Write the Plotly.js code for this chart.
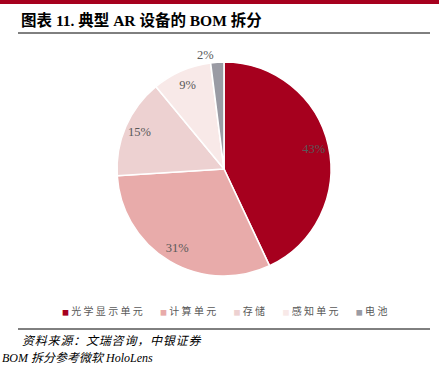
<!DOCTYPE html>
<html><head><meta charset="utf-8">
<script src="https://cdn.plot.ly/plotly-3.0.1.min.js"></script>
<style>html,body{margin:0;padding:0;background:#fff;}#c{width:439px;height:369px;}</style>
</head><body><div id="c"></div>
<script>
const categories = ["光学显示单元", "计算单元", "存储", "感知单元", "电池"];
const shares = [43, 31, 15, 9, 2];
const sliceColors = ["#A6001E", "#E8ABAA", "#EDD1D1", "#F8E9E8", "#9A9BA4"];
const labelPos = ["inside", "inside", "inside", "inside", "outside"];

const serif = '"Liberation Serif", "Noto Sans CJK SC", serif';
const W = 439, H = 369;
const cx = 224, cy = 169, r = 107;
const dom = {x: [(cx - r) / W, (cx + r) / W], y: [(H - cy - r) / H, (H - cy + r) / H]};

// visible pie
const pie = {
  type: 'pie',
  labels: categories,
  values: shares,
  sort: false,
  direction: 'clockwise',
  rotation: 0,
  marker: {colors: sliceColors, line: {color: '#ffffff', width: 1.6}},
  textinfo: 'none',
  hoverinfo: 'none',
  showlegend: false,
  domain: dom
};
// transparent ring carrying the percentage labels near the rim
const labelRing = {
  type: 'pie',
  labels: categories,
  values: shares,
  sort: false,
  direction: 'clockwise',
  rotation: 0,
  hole: 0.72,
  marker: {colors: sliceColors.map(() => 'rgba(0,0,0,0)'), line: {width: 0}},
  texttemplate: '%{value}%',
  textinfo: 'text',
  textposition: labelPos,
  insidetextorientation: 'horizontal',
  textfont: {family: serif, size: 12.5, color: '#595959'},
  outsidetextfont: {family: serif, size: 12.5, color: '#595959'},
  hoverinfo: 'none',
  showlegend: false,
  domain: dom
};

// legend row built from the category / colour arrays
const legendText = categories.map((c, i) =>
  `<span style="color:${sliceColors[i]};font-size:7px">■</span>&nbsp;<span style="letter-spacing:2.3px">${c}</span>`
).join('\u2003\u2002');

const layout = {
  width: W, height: H,
  margin: {l: 0, r: 0, t: 0, b: 0},
  paper_bgcolor: '#fff',
  showlegend: false,
  uniformtext: {minsize: 12.5, mode: 'show'},
  shapes: [
    {type: 'rect', xref: 'paper', yref: 'paper', x0: 0, x1: 1, y0: (H - 4) / H, y1: 1, fillcolor: '#A6001E', line: {width: 0}},
    {type: 'line', xref: 'paper', yref: 'paper', x0: 18 / W, x1: 430 / W, y0: (H - 33) / H, y1: (H - 33) / H, line: {color: '#000', width: 1}},
    {type: 'line', xref: 'paper', yref: 'paper', x0: 18 / W, x1: 430 / W, y0: (H - 329) / H, y1: (H - 329) / H, line: {color: '#000', width: 1}}
  ],
  annotations: [
    {text: '<b>图表 11. 典型 AR 设备的 BOM 拆分</b>', xref: 'paper', yref: 'paper', x: 19 / W, y: (H - 20) / H, xanchor: 'left', yanchor: 'middle', showarrow: false, font: {family: serif, size: 15.5, color: '#000'}},
    {text: legendText, xref: 'paper', yref: 'paper', x: 225.5 / W, y: (H - 310) / H, xanchor: 'center', yanchor: 'middle', showarrow: false, font: {family: '"Noto Sans CJK SC", sans-serif', size: 10, color: '#595959'}},
    {text: '<i><span style="letter-spacing:0.8px">资料来源：文瑞咨询，中银证券</span></i>', xref: 'paper', yref: 'paper', x: 20 / W, y: (H - 341) / H, xanchor: 'left', yanchor: 'middle', showarrow: false, font: {family: serif, size: 12, color: '#000'}},
    {text: '<i>BOM 拆分参考微软 HoloLens</i>', xref: 'paper', yref: 'paper', x: 0, y: (H - 358) / H, xanchor: 'left', yanchor: 'middle', showarrow: false, font: {family: serif, size: 12, color: '#000'}}
  ]
};

Plotly.newPlot('c', [pie, labelRing], layout, {displayModeBar: false, staticPlot: true});
</script></body></html>
